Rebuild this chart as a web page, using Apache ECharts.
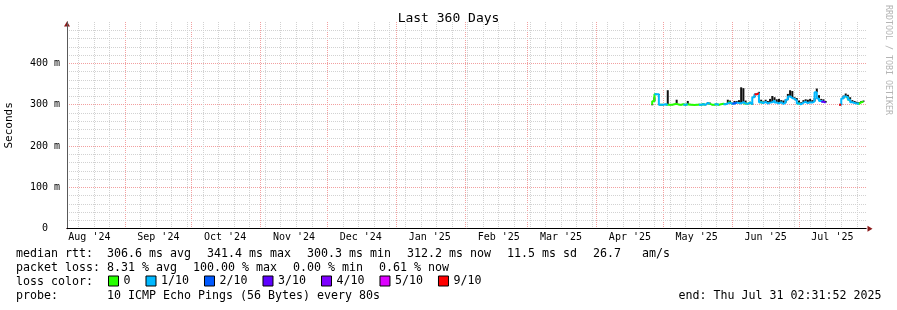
<!DOCTYPE html>
<html><head><meta charset="utf-8">
<script src="https://cdn.jsdelivr.net/npm/echarts@6/dist/echarts.min.js"></script>
<style>html,body{margin:0;padding:0;background:#fff}#c{width:897px;height:310px}</style>
</head><body><div id="c"></div>
<script>
const MONO = '"DejaVu Sans Mono", monospace';
const DAY_MS = 86400000;
const EPOCH = Date.UTC(2024, 7, 4); // day 0 = Sun 4 Aug 2024
const toDay = s => (Date.parse(s + 'T00:00:00Z') - EPOCH) / DAY_MS;

// visible time window (days since EPOCH)
const xMin = 1.93, xMax = 361.12;

// month ticks and labels
const monthStarts = ['2024-08-01','2024-09-01','2024-10-01','2024-11-01','2024-12-01','2025-01-01',
  '2025-02-01','2025-03-01','2025-04-01','2025-05-01','2025-06-01','2025-07-01'];
const tickLabels = ["Aug '24","Sep '24","Oct '24","Nov '24","Dec '24","Jan '25",
  "Feb '25","Mar '25","Apr '25","May '25","Jun '25","Jul '25"];

// data: day index (since EPOCH), median rtt (ms), loss colour level, smoke top (ms)
const days = [265,266,267,268,269,270,271,272,273,274,275,276,277,278,279,280,281,282,283,284,
  285,286,287,288,289,290,291,292,293,294,295,296,297,298,299,300,301,302,303,304,
  305,306,307,308,309,310,311,312,313,314,315,316,317,318,319,320,321,322,323,324,
  325,326,327,328,329,330,331,332,333,334,335,336,337,338,339,340,341,342,343,344,
  345,346,347,348,349,350,351,352,353,354,355,356,357,358,359,360];
const median = [300,308,325,325,300,300,301,300,300,300,301,302,300,300,301,300,301,300,300,299,
  300,300,300,301,300,304,302,300,300,301,300,301,302,301,303,305,302,303,305,304,
  303,306,303,302,305,301,318,325,328,306,304,307,303,305,306,310,305,303,306,302,
  305,312,320,316,314,310,303,301,305,307,304,306,305,308,330,315,309,307,305,null,
  null,null,null,null,null,300,315,320,318,312,306,304,303,302,306,307];
const lossLevel = [6,0,0,1,1,0,1,1,0,0,0,0,0,0,0,0,1,0,0,0,
  0,0,0,1,0,1,1,0,0,0,1,0,0,0,1,1,0,1,2,1,
  1,1,1,0,1,0,1,1,6,1,0,1,1,1,1,1,1,1,1,1,
  1,1,1,1,1,1,1,0,1,1,1,1,1,1,1,1,1,1,3,null,
  null,null,null,null,null,6,1,1,1,0,1,1,1,1,0,0];
const smokeHigh = [301,318,326,326,301,301,302,335,301,301,302,312,302,301,302,301,309,302,301,301,
  301,302,301,303,301,306,305,301,301,302,301,302,303,303,312,310,304,309,309,311,
  342,340,310,304,307,303,322,327,331,312,308,312,309,314,321,318,313,314,311,310,
  313,326,335,333,318,316,310,306,311,313,312,314,311,316,339,323,314,313,309,null,
  null,null,null,null,null,302,322,327,324,318,311,309,307,306,309,310];

const lossNames = ['0','1/10','2/10','3/10','4/10','5/10','9/10'];
const lossColors = ['#26ff00','#00b8ff','#0059ff','#5e00ff','#7e00ff','#dd00ff','#ff0000'];

// stats text
const statLines = [
  {y: 254, segs: ['median rtt:  306.6 ms avg','341.4 ms max','300.3 ms min','312.2 ms now','11.5 ms sd','26.7   am/s']},
  {y: 268, segs: ['packet loss: 8.31 % avg','100.00 % max','0.00 % min','0.61 % now']},
  {y: 282, segs: ['loss color:']},
  {y: 296, segs: ['probe:       10 ICMP Echo Pings (56 Bytes) every 80s']}
];
const endText = 'end: Thu Jul 31 02:31:52 2025';

const monthDays = monthStarts.map(toDay);
const labelDays = monthDays.map(d => d + 15);
const weekDays = [];
for (let d = 7; d < xMax; d += 7) if (d > xMin && monthDays.indexOf(d) < 0) weekDays.push(d);

const CH = 7; // monospace advance at 11.63px
const graphics = [];
statLines.forEach(line => {
  let chars = 0;
  line.segs.forEach((s, k) => {
    graphics.push({type: 'text', x: 16 + CH * chars + 2 * k, y: line.y,
      style: {text: s, font: '11.63px ' + MONO, fill: '#000', align: 'left', verticalAlign: 'middle',
        textAlign: 'left', textVerticalAlign: 'middle'}});
    chars += s.length + 2;
  });
});
graphics.push({type: 'text', x: 881.5, y: 296,
  style: {text: endText, font: '11.63px ' + MONO, fill: '#000', align: 'right', verticalAlign: 'middle',
    textAlign: 'right', textVerticalAlign: 'middle'}});
graphics.push({type: 'text', x: 888, y: 5, rotation: -Math.PI / 2,
  style: {text: 'RRDTOOL / TOBI OETIKER', font: '8.3px ' + MONO, fill: '#b4b4b4', align: 'left', verticalAlign: 'middle',
    textAlign: 'left', textVerticalAlign: 'middle'}});

const lossSeries = lossNames.map((name, L) => ({
  name, type: 'line', step: 'start', symbol: 'none', showSymbol: false, connectNulls: false,
  z: 4, animation: false,
  lineStyle: {color: lossColors[L], width: 2},
  itemStyle: {color: lossColors[L]},
  data: days.map((d, i) => {
    const m = median[i];
    if (m == null) return [d, null];
    const own = lossLevel[i] === L;
    const next = i + 1 < days.length && lossLevel[i + 1] === L && median[i + 1] != null;
    return (own || next) ? [d, m] : [d, null];
  })
}));

const smokeSeries = {
  type: 'custom', silent: true, z: 2, animation: false,
  encode: {x: 0, y: [1, 2]},
  data: days.map((d, i) => [d, median[i] == null ? NaN : median[i], smokeHigh[i] == null ? NaN : smokeHigh[i]]),
  renderItem: (params, api) => {
    const lo = api.value(1), hi = api.value(2);
    if (isNaN(lo) || isNaN(hi)) return null;
    const p0 = api.coord([api.value(0), lo]);
    const p1 = api.coord([api.value(0), hi]);
    return {type: 'rect', shape: {x: p0[0] - 1, y: p1[1], width: 2, height: Math.max(1, p0[1] - p1[1])},
      style: {fill: '#111'}};
  }
};

const chart = echarts.init(document.getElementById('c'), null, {renderer: 'canvas'});
chart.setOption({
  animation: false,
  backgroundColor: '#fff',
  title: {text: 'Last 360 Days', left: 'center', top: 12, padding: 0,
    textStyle: {fontFamily: MONO, fontSize: 13, fontWeight: 'normal', color: '#000'}},
  grid: {left: 67, right: 31, top: 22, bottom: 81.3, containLabel: false, outerBoundsMode: 'none'},
  legend: {data: lossNames, left: 108, top: 275, padding: 0, itemWidth: 10, itemHeight: 10, itemGap: 15,
    icon: 'rect', selectedMode: false,
    itemStyle: {borderColor: '#000', borderWidth: 1},
    textStyle: {fontFamily: MONO, fontSize: 11.63, color: '#000'}},
  xAxis: [{
    type: 'value', min: xMin, max: xMax, position: 'bottom', z: 1,
    axisLine: {show: true, onZero: false, lineStyle: {color: '#000', width: 1}},
    axisTick: {show: false, customValues: weekDays},
    splitLine: {show: true, lineStyle: {color: '#d2d2d2', width: 1, type: [1, 1]}},
    axisLabel: {show: true, customValues: labelDays, hideOverlap: false, margin: 4,
      fontFamily: MONO, fontSize: 10, color: '#000',
      formatter: v => tickLabels[labelDays.indexOf(Math.round(v))] || ''}
  }, {
    type: 'value', min: xMin, max: xMax, position: 'bottom', z: 0,
    axisLine: {show: true, onZero: false, symbol: ['none', 'triangle'], symbolSize: [6, 5], symbolOffset: [0, 4],
      lineStyle: {color: '#8b1a1a', width: 1}},
    axisTick: {show: false, customValues: monthDays},
    splitLine: {show: true, lineStyle: {color: '#f2a0a0', width: 1, type: [1, 1]}},
    axisLabel: {show: false}
  }],
  yAxis: [{
    type: 'value', min: 0, max: 500, interval: 100, z: 1,
    name: 'Seconds', nameLocation: 'middle', nameGap: 52,
    nameTextStyle: {fontFamily: MONO, fontSize: 11, color: '#000'},
    axisLine: {show: true, lineStyle: {color: '#5a5a5a', width: 1}},
    axisTick: {show: false},
    minorTick: {show: false, splitNumber: 5},
    axisLabel: {margin: 7, fontFamily: MONO, fontSize: 10, color: '#000', showMaxLabel: false,
      formatter: v => v === 0 ? '0  ' : v + ' m'},
    splitLine: {show: true, showMaxLine: false, showMinLine: false, lineStyle: {color: '#f2a0a0', width: 1, type: [1, 1]}},
    minorSplitLine: {show: true, lineStyle: {color: '#d2d2d2', width: 1, type: [1, 1]}}
  }, {
    type: 'value', min: 0, max: 500, position: 'left', z: 0,
    axisLine: {show: true, symbol: ['none', 'triangle'], symbolSize: [6, 5], symbolOffset: [0, -2],
      lineStyle: {color: '#8b1a1a', width: 1}},
    axisTick: {show: false}, axisLabel: {show: false}, splitLine: {show: false}
  }],
  series: [smokeSeries].concat(lossSeries),
  graphic: {elements: graphics}
});
</script></body></html>
